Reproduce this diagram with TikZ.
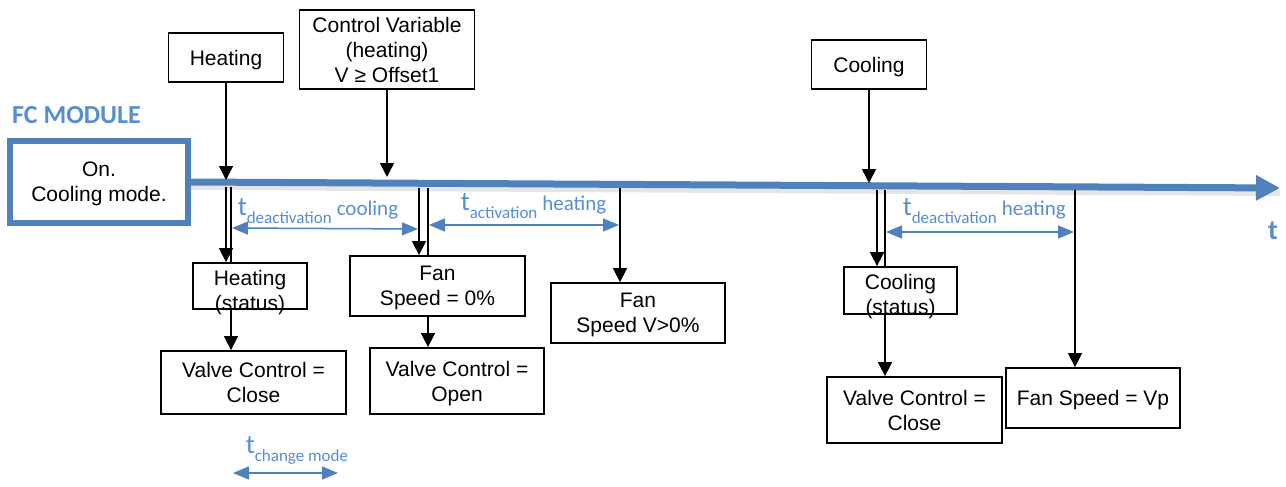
\documentclass[tikz,border=0pt]{standalone}
\usepackage{fontspec}
\setmainfont{Liberation Sans}
\newfontfamily\lblfont{Carlito}
\usetikzlibrary{arrows.meta}

\definecolor{fcblue}{HTML}{4F81BD}
\definecolor{lblblue}{HTML}{558ED5}

% t, its subscript and the mode word after it
\newcommand{\tlabel}[2]{{\fontsize{27}{27}\selectfont t}\raisebox{-8pt}{\fontsize{17}{17}\selectfont #1}\hspace{5pt}{\fontsize{21}{21}\selectfont #2}}
% status text that sits low in its box
\newcommand{\sunk}[1]{\raisebox{-12pt}[0pt][0pt]{\begin{tabular}{@{}c@{}}#1\end{tabular}}}

\begin{document}
\begin{tikzpicture}[x=1pt, y=-1pt,
    box/.style={draw, line width=1.8pt, align=center, inner sep=0pt, text depth=0pt,
        font=\fontsize{21}{25}\selectfont},
    arr/.style={line width=1.6pt, -{Triangle[width=14pt,length=14pt]}},
    link/.style={line width=1.6pt},
    dim/.style={fcblue, line width=1.5pt, shorten <=1pt, shorten >=1pt,
        {Triangle[width=13pt,length=16pt]}-{Triangle[width=13pt,length=16pt]}},
    dimlbl/.style={font=\lblfont, text=lblblue, inner sep=0pt, anchor=base west},
    axis/.style={fcblue, line width=7pt, -{Triangle[width=24pt,length=24pt]}}]

    \useasboundingbox (0,0) rectangle (1286,487);

    % Module and its starting state
    \node[font=\lblfont\bfseries\fontsize{26}{26}\selectfont, text=lblblue, inner sep=0pt, anchor=base west] (fc) at (12,123) {FC MODULE};
    \node[box, draw=fcblue, line width=6pt, minimum width=178pt, minimum height=82pt] (on) at (99,182) {On.\\Cooling mode.};

    % Time axis
    \coordinate (tend) at (1280,188);
    \draw[black!10, line width=6pt] ([yshift=-5pt]on.east) -- ([yshift=-5pt]tend);
    \draw[axis] (on.east) -- (tend);
    \node[font=\lblfont\bfseries\fontsize{28}{28}\selectfont, text=lblblue] (t) at (1273,231) {t};

    % Events above the axis
    \node[box, minimum width=115pt, minimum height=49pt] (heat) at (226,57.5) {Heating};
    \node[box, minimum width=175pt, minimum height=79pt] (ctrl) at (387,49.5) {Control Variable\\(heating)\\V ≥ Offset1};
    \node[box, minimum width=115pt, minimum height=49pt] (cool) at (869,64.5) {Cooling};

    \coordinate (aheat) at (226,180);
    \coordinate (actrl) at (387,177);
    \coordinate (acool) at (869,183);
    \draw[arr] (heat.south) -- (aheat);
    \draw[arr] (ctrl.south) -- (actrl);
    \draw[arr] (cool.south) -- (acool);

    % Results below the axis
    \node[box, minimum width=114pt, minimum height=46pt] (hstat) at (250,286) {\sunk{Heating\\(status)}};
    \node[box, minimum width=185pt, minimum height=63pt] (valve1) at (253.5,382.5) {Valve Control =\\Close};
    \node[box, minimum width=175pt, minimum height=60pt] (fan0) at (437.5,286) {Fan\\Speed = 0\%};
    \node[box, minimum width=174pt, minimum height=66pt] (valve2) at (457,381) {Valve Control =\\Open};
    \node[box, minimum width=174pt, minimum height=60pt] (fanv) at (638,313) {Fan\\Speed V>0\%};
    \node[box, minimum width=113pt, minimum height=47pt] (cstat) at (900.5,290.5) {\sunk{Cooling\\(status)}};
    \node[box, minimum width=175pt, minimum height=66pt] (valve3) at (914.5,410) {Valve Control =\\Close};
    \node[box, minimum width=174pt, minimum height=60pt] (fanvp) at (1093,398) {Fan Speed = Vp};

    % Lines leaving the axis
    \coordinate (h1) at (226,187);
    \coordinate (h2) at (231,187);
    \coordinate (f1) at (419,188);
    \coordinate (f2) at (428,188);
    \coordinate (v1) at (620,188);
    \coordinate (c1) at (877,190);
    \coordinate (c2) at (885,190);
    \coordinate (p1) at (1075,190);

    \draw[arr] (h1) -- (h1 |- hstat.north);
    \draw[link] (h2) -- (h2 |- hstat.north);
    \draw[arr] (hstat.south -| h2) -- (valve1.north -| h2);

    \draw[arr] (f1) -- (f1 |- fan0.north);
    \draw[link] (f2) -- (f2 |- fan0.north);
    \draw[arr] (fan0.south -| f2) -- (valve2.north -| f2);

    \draw[arr] (v1) -- (v1 |- fanv.north);

    \draw[arr] (c1) -- (c1 |- cstat.north);
    \draw[link] (c2) -- (c2 |- cstat.north);
    \draw[arr] (cstat.south -| c2) -- (valve3.north -| c2);

    \draw[arr] (p1) -- (p1 |- fanvp.north);

    % Time spans
    \draw[dim] ([yshift=-41pt]h2) -- ([yshift=-41pt]f1)
        node[dimlbl, pos=0, xshift=6pt, yshift=13pt] {\tlabel{deactivation}{cooling}};
    \draw[dim] ([yshift=-37pt]f2) -- ([yshift=-37pt]v1)
        node[dimlbl, pos=0, xshift=32pt, yshift=15pt] {\tlabel{activation}{heating}};
    \draw[dim] ([yshift=-42pt]c2) -- ([yshift=-42pt]p1)
        node[dimlbl, pos=0, xshift=17pt, yshift=17pt] {\tlabel{deactivation}{heating}};

    \coordinate (m1) at (232,473);
    \coordinate (m2) at (339,473);
    \draw[dim] (m1) -- (m2)
        node[dimlbl, pos=0, xshift=13pt, yshift=20pt] {\tlabel{change mode}{}};

\end{tikzpicture}
\end{document}
